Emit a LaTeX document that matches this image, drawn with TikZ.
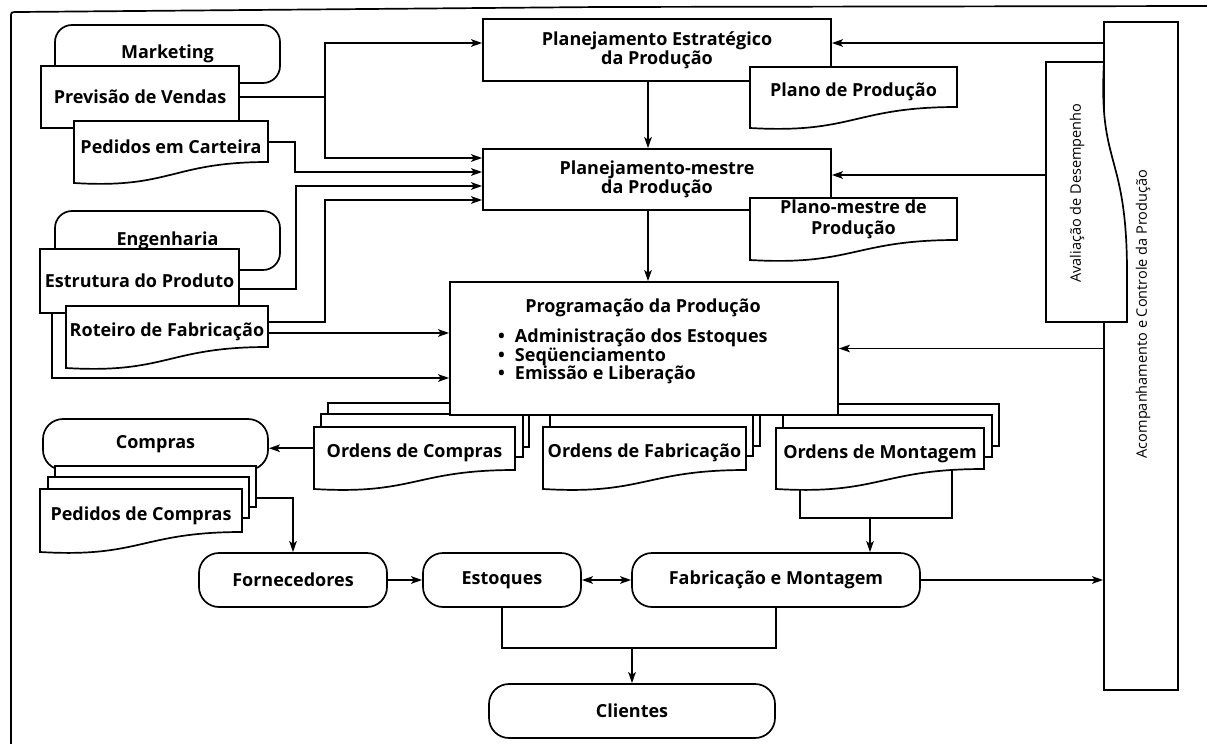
\documentclass[tikz,border=0pt]{standalone}
\usepackage{fontspec}
\setmainfont{Open Sans}
\usetikzlibrary{arrows.meta,calc}

% document outline with a wavy lower edge: x0, y0, x1, y-left-bottom, y-right-bottom
\newcommand\docshape[5]{%
  \filldraw[ln,fill=white] (#1,#2) -- (#3,#2) -- (#3,#5)
    .. controls ({(#1+#3)/2},#5) and ({(#1+#3)/2},{#4+6}) .. (#1,#4) -- cycle;}
% plain or styled box from two corners: [style]{name}{x0}{y0}{x1}{y1}{text}
\newcommand\boxat[7][]{%
  \node[#1,minimum width={(#5-#3)*1pt},minimum height={(#6-#4)*1pt}]
    (#2) at ({(#3+#5)/2},{(#4+#6)/2}) {#7};}

\begin{document}
\begin{tikzpicture}[x=1pt,y=-1pt,
  every node/.style={font=\fontsize{18}{19}\selectfont\bfseries},
  ln/.style={line width=1.7pt},
  tip/.style={},
  arr/.style={ln,-{Stealth[length=11pt,width=7.5pt,inset=2.5pt]}},
  darr/.style={ln,{Stealth[length=11pt,width=7.5pt,inset=2.5pt]}-{Stealth[length=11pt,width=7.5pt,inset=2.5pt]}},
  box/.style={draw,line width=1.7pt,fill=white,inner sep=0pt,align=center},
  roundbox/.style={box,rounded corners=17pt},
  pill/.style={box,rounded corners=20pt},
  tag/.style={inner sep=0pt,align=center},
  side/.style={inner sep=0pt,rotate=90,font=\fontsize{14.5}{17}\selectfont},
]
\useasboundingbox (0,0) rectangle (1207,744);

% outer frame
\draw[ln] (11,744) -- (11,17) .. controls (11,12) .. (18,12) -- (600,7) -- (1207,6);

% ---- Marketing group
\boxat[roundbox]{mkt}{55}{25}{280}{83}{Marketing}
\boxat[box]{prev}{41}{66}{239}{128}{Previsão de Vendas}
\docshape{74}{121}{268}{183}{162}
\boxat[tag]{pedc}{74}{121}{268}{172.5}{Pedidos em Carteira}

% ---- Engenharia group
\boxat[roundbox]{eng}{55}{211}{280}{270}{Engenharia}
\boxat[box]{estr}{40}{249}{239}{313}{Estrutura do Produto}
\docshape{66}{306}{268}{368}{347}
\boxat[tag]{rot}{66}{306}{268}{357.5}{Roteiro de Fabricação}

% ---- planning levels
\boxat[box]{pe}{483}{19}{831}{81}{Planejamento Estratégico\\da Produção}
\docshape{750}{67}{957}{128}{107}
\boxat[tag]{plp}{750}{67}{957}{117.5}{Plano de Produção}

\boxat[box]{pm}{483}{149}{831}{210}{Planejamento-mestre\\da Produção}
\docshape{750}{198}{957}{260}{240}
\boxat[tag]{plm}{750}{198}{957}{241}{Plano-mestre de\\[2pt]Produção}

% ---- order stacks (back sheets first)
\boxat[box]{oc3}{328}{403}{529}{447}{}
\boxat[box]{oc2}{321}{414}{523}{457}{}
\boxat[box]{of3}{557}{403}{760}{446}{}
\boxat[box]{of2}{550}{414}{753}{456}{}
\boxat[box]{om3}{790}{404}{999}{446}{}
\boxat[box]{om2}{783}{415}{992}{457}{}

\boxat[box]{prog}{450}{282}{838}{415}{}
\node[tag] (progtitle) at (643,308) {Programação da Produção};
\node[tag,anchor=west,align=left,font=\fontsize{18}{18.5}\selectfont\bfseries]
  (proglist) at (498,356.5)
  {\textbullet\hspace{10pt}Administração dos Estoques\\
   \textbullet\hspace{10pt}Seqüenciamento\\
   \textbullet\hspace{10pt}Emissão e Liberação};

\docshape{314}{427}{515}{489}{470}
\boxat[tag]{oc}{314}{427}{515}{479.5}{Ordens de Compras}
\docshape{543}{427}{746}{489}{470}
\boxat[tag]{of}{543}{427}{746}{479.5}{Ordens de Fabricação}
\docshape{776}{428}{984}{489}{469}
\boxat[tag]{om}{776}{428}{984}{479}{Ordens de Montagem}

% ---- Compras group
\boxat[pill]{compras}{43}{419}{268}{470}{Compras}
\boxat[box]{pdc3}{55}{466}{256}{507}{}
\boxat[box]{pdc2}{48}{477}{249}{518}{}
\docshape{40}{489}{242}{552}{532}
\boxat[tag]{pdc}{40}{489}{242}{542}{Pedidos de Compras}

% ---- control column
\boxat[box]{acomp}{1104}{22}{1178}{690}{}
\node[side] (acomptxt) at (1143,314) {Acompanhamento e Controle da Produção};
\filldraw[ln,fill=white] (1104,62) -- (1046,62) -- (1046,322) -- (1127,322) -- (1127,280)
  .. controls (1128,150) and (1098,170) .. cycle;
\boxat[tag]{aval}{1046}{62}{1104}{322}{}
\node[side] (avaltxt) at (1077,193) {Avaliação de Desempenho};

% ---- physical flow
\boxat[pill]{forn}{199}{553}{387}{607}{Fornecedores}
\boxat[pill]{est}{423}{553}{581}{607}{Estoques}
\boxat[pill]{fab}{632}{553}{920}{607}{Fabricação e Montagem}
\boxat[pill]{cli}{489}{684}{775}{738}{Clientes}

% ---- connectors: inputs to the planning levels
\coordinate (ja) at (325,97);
\draw[ln] (prev.east) -- (ja);
\draw[arr] (ja) |- ([yshift=7pt]pe.west);
\draw[arr] (ja) |- ([yshift=21.5pt]pm.west);
\draw[arr] ([yshift=4.75pt]pedc.east) -- ++(27,0) |- ([yshift=7.5pt]pm.west);
\draw[arr] ([yshift=-8pt]estr.east) -- ++(56,0) |- ([yshift=-6.5pt]pm.west);
\draw[arr] ([yshift=9.75pt]rot.east) -- ++(57,0) |- ([yshift=-20.5pt]pm.west);
\draw[arr] ([yshift=-1.25pt]rot.east) -- ([yshift=15.5pt]prog.west);
\draw[arr] ([xshift=13pt]estr.south west) |- ([yshift=-29.5pt]prog.west);

% ---- top-down flow
\draw[arr] ([xshift=-9pt]pe.south) -- ([xshift=-9pt]pm.north);
\draw[arr] ([xshift=-9pt]pm.south) -- ([xshift=4pt]prog.north);

% ---- feedback from the control column
\coordinate (per) at ([yshift=7pt]pe.east);
\coordinate (pmr) at ([yshift=4.5pt]pm.east);
\draw[arr] (acomp.west |- per) -- (per);
\draw[arr] (aval.west |- pmr) -- (pmr);
\draw[arr] (acomp.west |- prog.east) -- (prog.east);

% ---- orders to execution
\coordinate (ocl) at ([yshift=5pt]oc.west);
\draw[arr] (ocl) -- (compras.east |- ocl);
\draw[arr] ([yshift=-11.5pt]pdc3.east) -| (forn.north);
\coordinate (omb) at (870,518);
\draw[ln] (800,490) |- (omb) -| (952,470);
\draw[arr] (omb) -- (fab.north -| omb);

% ---- physical flow connectors
\draw[arr] (forn.east) -- (est.west);
\draw[darr] (est.east) -- (fab.west);
\draw[arr] (fab.east) -- (acomp.west |- fab.east);
\coordinate (cj) at (632,648);
\draw[ln] (est.south) |- (cj) -| (fab.south);
\draw[arr] (cj) -- (cli.north);
\end{tikzpicture}
\end{document}
